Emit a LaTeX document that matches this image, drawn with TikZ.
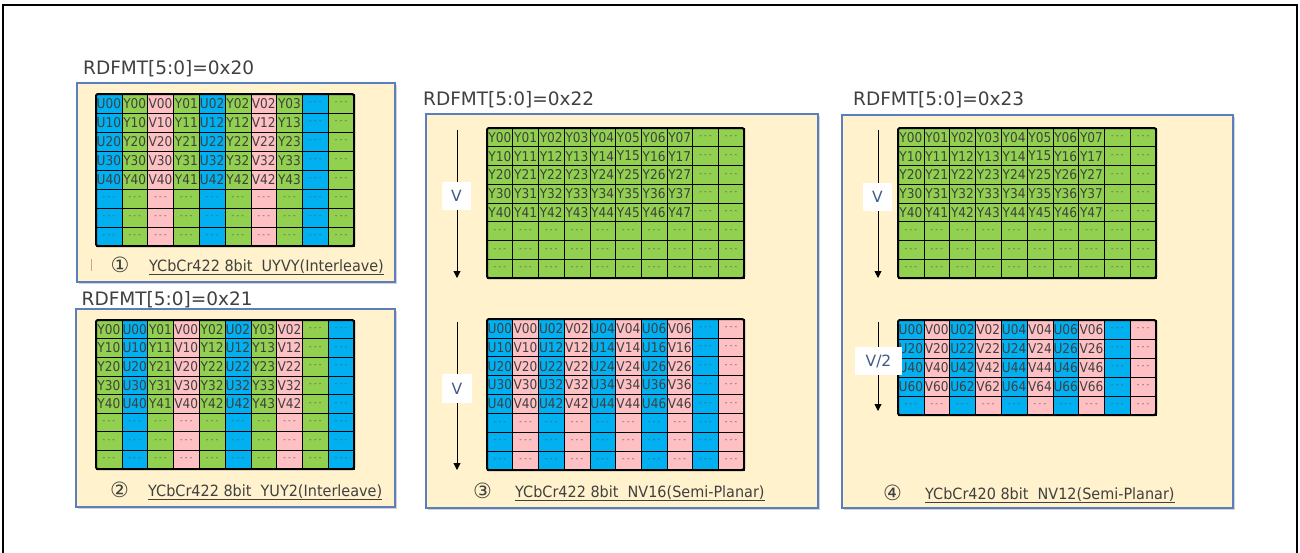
\documentclass[tikz,border=0pt]{standalone}
\usepackage{fontspec}
\setmainfont{DejaVu Sans}
\newfontfamily\capfont[FakeStretch=0.93]{DejaVu Sans}
\newfontfamily\cellfont[FakeStretch=0.9]{DejaVu Sans}
\usetikzlibrary{arrows.meta,shadows}
\definecolor{cu}{HTML}{00B0F0}
\definecolor{cy}{HTML}{92D050}
\definecolor{cv}{HTML}{FFC0C4}
\definecolor{panelfill}{HTML}{FFF2CC}
\definecolor{panelline}{HTML}{5B7FBC}
\definecolor{celltext}{HTML}{404040}
\definecolor{titletext}{HTML}{404040}
\definecolor{vtext}{HTML}{3F5B86}
\definecolor{dotcol}{HTML}{5A5A5A}
\def\mydd{d}
\def\mynn{-}
\newcommand\celldots{{\fontsize{8}{8}\selectfont\color{dotcol}- - -}}
\newcommand\mkgrid[8]{%
  \pgfmathsetmacro\cw{(#4-#2)/10}%
  \pgfmathsetmacro\ch{(#5-#3)/#7}%
  \foreach[count=\ii] \rw in {#6}{%
    \foreach[count=\jj] \cc/\pp/\sfx in {#8}{%
      \edef\rr{\rw}\edef\ppp{\pp}%
      \def\lab{\pp\rw\sfx}%
      \ifx\rr\mydd \def\lab{\celldots}\fi
      \ifx\ppp\mynn \def\lab{\celldots}\fi
      \node[cell, fill=\cc, minimum width=\cw pt, minimum height=\ch pt] (#1-\ii-\jj)
        at ({#2+(\jj-0.5)*\cw},{#3+(\ii-0.5)*\ch}) {\lab};
    }%
  }%
  \draw[gridframe] (#2,#3) rectangle (#4,#5);
}
\tikzset{
  cell/.style={draw=black, line width=0.6pt, inner sep=0pt, outer sep=0pt, text=celltext, font=\cellfont\fontsize{13.5}{13.5}\selectfont},
  gridframe/.style={line width=2pt, rounded corners=1.5pt},
  panel/.style={draw=panelline, fill=panelfill, line width=1.8pt, inner sep=0pt,
    drop shadow={shadow xshift=1.5pt, shadow yshift=-2pt, opacity=0.35, fill=gray}},
  title/.style={anchor=base west, inner sep=0pt, text=titletext, font=\fontsize{18.5}{20}\selectfont},
  caption/.style={anchor=base west, inner sep=0pt, text=celltext, font=\capfont\fontsize{15.5}{17}\selectfont},
  num/.style={inner sep=0pt, text=celltext, font=\fontsize{21}{22}\selectfont},
  vlab/.style={fill=white, inner sep=0pt, text=vtext, font=\fontsize{15.5}{16}\selectfont},
  arr/.style={line width=0.9pt, -{Triangle[length=7pt,width=7pt]}},
}
\begin{document}
\begin{tikzpicture}[x=1pt,y=-1pt]
\useasboundingbox (0,0) rectangle (1300,552);
\fill[white] (0,0) rectangle (1300,552);
\draw[line width=2pt] (3,570) -- (3,5) -- (1297,5) -- (1297,570);

% panels
\node[panel, minimum width=318pt, minimum height=199pt] (p1) at (236,182.5) {};
\node[panel, minimum width=319pt, minimum height=198pt] (p2) at (235.5,408) {};
\node[panel, minimum width=392pt, minimum height=394pt] (p3) at (622,311) {};
\node[panel, minimum width=391pt, minimum height=393pt] (p4) at (1037.5,311.5) {};

% titles
\node[title] (t1) at (83,74.3) {RDFMT[5:0]=0x20};
\node[title] (t2) at (81.5,305.5) {RDFMT[5:0]=0x21};
\node[title] (t3) at (423,105.5) {RDFMT[5:0]=0x22};
\node[title] (t4) at (853,105.5) {RDFMT[5:0]=0x23};

% grids
\mkgrid{g1}{96}{94}{354}{246}{0,1,2,3,4,d,d,d}{8}{cu/U/0,cy/Y/0,cv/V/0,cy/Y/1,cu/U/2,cy/Y/2,cv/V/2,cy/Y/3,cu/-/-,cy/-/-}
\mkgrid{g2}{96}{320}{354}{469}{0,1,2,3,4,d,d,d}{8}{cy/Y/0,cu/U/0,cy/Y/1,cv/V/0,cy/Y/2,cu/U/2,cy/Y/3,cv/V/2,cy/-/-,cu/-/-}
\mkgrid{g3y}{487}{128}{744}{278}{0,1,2,3,4,d,d,d}{8}{cy/Y/0,cy/Y/1,cy/Y/2,cy/Y/3,cy/Y/4,cy/Y/5,cy/Y/6,cy/Y/7,cy/-/-,cy/-/-}
\mkgrid{g3c}{487}{319}{744}{470}{0,1,2,3,4,d,d,d}{8}{cu/U/0,cv/V/0,cu/U/2,cv/V/2,cu/U/4,cv/V/4,cu/U/6,cv/V/6,cu/-/-,cv/-/-}
\mkgrid{g4y}{898}{128}{1156}{278}{0,1,2,3,4,d,d,d}{8}{cy/Y/0,cy/Y/1,cy/Y/2,cy/Y/3,cy/Y/4,cy/Y/5,cy/Y/6,cy/Y/7,cy/-/-,cy/-/-}
\mkgrid{g4c}{898}{320}{1156}{415}{0,2,4,6,d}{5}{cu/U/0,cv/V/0,cu/U/2,cv/V/2,cu/U/4,cv/V/4,cu/U/6,cv/V/6,cu/-/-,cv/-/-}

% arrows
\coordinate (a3s) at (457,130); \coordinate (a3e) at (457,278);
\coordinate (b3s) at (457,322); \coordinate (b3e) at (457,470);
\coordinate (a4s) at (878,130); \coordinate (a4e) at (878,278);
\coordinate (b4s) at (878,322); \coordinate (b4e) at (878,411);
\draw[arr] (a3s) -- (a3e);
\draw[arr] (b3s) -- (b3e);
\draw[arr] (a4s) -- (a4e);
\draw[arr] (b4s) -- (b4e);
\node[vlab, minimum width=29pt, minimum height=28pt] (v3a) at (456.5,196) {V};
\node[vlab, minimum width=30pt, minimum height=29pt] (v3b) at (457,388.5) {V};
\node[vlab, minimum width=29pt, minimum height=28pt] (v4a) at (877.5,197) {V};
\node[vlab, minimum width=47pt, minimum height=28pt] (v4b) at (878.5,361) {V/2};

% captions
\draw[brown!70, line width=0.6pt] (91,259) -- (91,271);
\node[num] (n1) at (120,265) {①};
\node[num] (n2) at (119.5,490) {②};
\node[num] (n3) at (482.5,491) {③};
\node[num] (n4) at (892.5,493) {④};
\node[caption] (c1) at (149,271) {\underline{YCbCr422 8bit\ \ UYVY(Interleave)}};
\node[caption] (c2) at (148,496) {\underline{YCbCr422 8bit\ \ YUY2(Interleave)}};
\node[caption] (c3) at (515,497) {\underline{YCbCr422 8bit\ \ NV16(Semi-Planar)}};
\node[caption] (c4) at (925,499) {\underline{YCbCr420 8bit\ \ NV12(Semi-Planar)}};
\end{tikzpicture}
\end{document}
